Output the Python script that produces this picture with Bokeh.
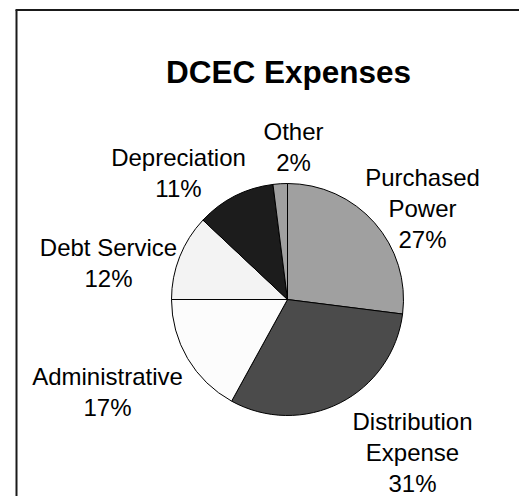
import math
from bokeh.plotting import figure
from bokeh.models import Range1d, ColumnDataSource
from bokeh.core.properties import value
from bokeh.embed import file_html
from bokeh.resources import INLINE

# ---- data ----
categories = ["Purchased\nPower", "Distribution\nExpense", "Administrative",
              "Debt Service", "Depreciation", "Other"]
percents = [27, 31, 17, 12, 11, 2]
colors = ["#a0a0a0", "#4b4b4b", "#fcfcfc", "#f3f3f3", "#1c1c1c", "#a0a0a0"]
title_text = "DCEC Expenses"

# ---- layout (picture pixel coordinates) ----
W, H = 519, 496
def py(pic_y):
    return H - pic_y

cx, cy, radius = 287, py(299), 116
# label anchors: (center x, first baseline y)
label_anchor = [(422, 177), (412, 421), (107, 376), (108, 247), (178, 157), (293, 131)]
line_step = 31
font = "Liberation Sans"

p = figure(width=W, height=H, output_backend="svg", toolbar_location=None,
           x_range=Range1d(0, W), y_range=Range1d(0, H),
           min_border=0, outline_line_color=None)
p.axis.visible = False
p.grid.visible = False
p.background_fill_color = "white"
p.border_fill_color = "white"

# frame border (open to the right/bottom as in reference)
bx, by = 16, py(9.5)
p.segment(x0=[bx - 1, bx], y0=[by, by], x1=[W + 5, bx], y1=[by, -5],
          line_color="#1a1a1a", line_width=2)

# wedges, clockwise from 12 o'clock
total = sum(percents)
starts, ends = [], []
acc = 0
for v in percents:
    starts.append(math.radians(90 - acc / total * 360))
    acc += v
    ends.append(math.radians(90 - acc / total * 360))
src = ColumnDataSource(dict(start=starts, end=ends, color=colors))
p.wedge(x=cx, y=cy, radius=radius, start_angle="start", end_angle="end",
        direction="clock", fill_color="color", line_color="black",
        line_width=1, source=src)

# labels
xs, ys, txt = [], [], []
for name, v, (ax, ay) in zip(categories, percents, label_anchor):
    lines = name.split("\n") + [f"{round(v / total * 100)}%"]
    for i, ln in enumerate(lines):
        xs.append(ax)
        ys.append(py(ay + i * line_step))
        txt.append(ln)
p.text(x=xs, y=ys, text=txt, text_align="center", text_baseline="alphabetic",
       text_font=value(font), text_font_size="24px", text_color="black")

# title
p.text(x=[288], y=[py(71)], text=[title_text], text_align="center",
       text_baseline="alphabetic", text_font=value(font),
       text_font_size="31.5px", text_font_style="bold", text_color="black")

open("out.html", "w").write(file_html(p, INLINE))
